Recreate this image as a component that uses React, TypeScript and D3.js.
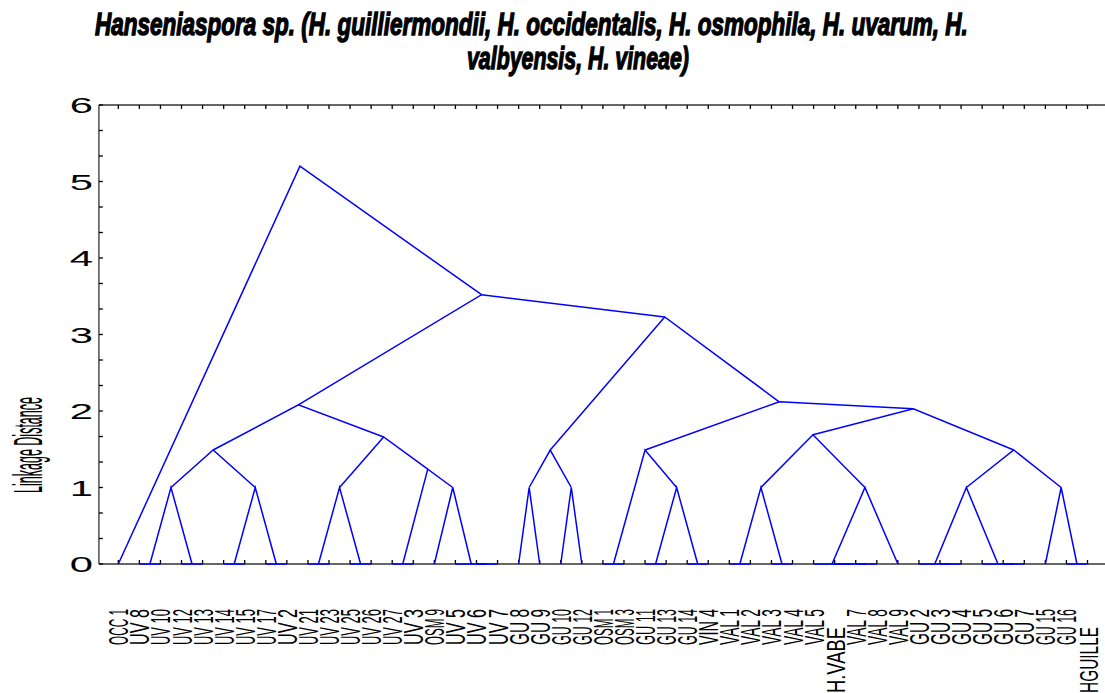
import React, { useLayoutEffect, useRef, useState } from "react";
import * as d3 from "d3";

// chart text
const titleLines = [
  "Hanseniaspora sp. (H. guilliermondii, H. occidentalis, H. osmophila, H. uvarum, H.",
  "valbyensis, H. vineae)",
];
const yLabel = "Linkage Distance";
const yTicks = [0, 1, 2, 3, 4, 5, 6];

// leaf labels, in dendrogram order
const leafLabels = [
  "OCC 1", "UV 8", "UV 10", "UV 12", "UV 13", "UV 14", "UV 15", "UV 17", "UV 2",
  "UV 21", "UV 23", "UV 25", "UV 26", "UV 27", "UV 3", "OSM 9", "UV 5", "UV 6",
  "UV 7", "GU 8", "GU 9", "GU 10", "GU 12", "OSM 1", "OSM 3", "GU 11", "GU 13",
  "GU 14", "VIN 4", "VAL 1", "VAL 2", "VAL 3", "VAL 4", "VAL 5", "H.VABE", "VAL 7",
  "VAL 8", "VAL 9", "GU 2", "GU 3", "GU 4", "GU 5", "GU 6", "GU 7", "GU 15",
  "GU 16", "HGUILLE",
];

// linkage rows [left, right, distance]; ids 1..47 are leaves, 48.. are clusters
const linkage: [number, number, number][] = [
  [2, 3, 0], [4, 5, 0], [6, 7, 0], [8, 9, 0], [10, 11, 0], [12, 13, 0],
  [14, 15, 0], [18, 19, 0], [17, 55, 0], [24, 25, 0], [26, 27, 0], [28, 29, 0],
  [30, 31, 0], [32, 33, 0], [36, 37, 0], [35, 62, 0], [34, 63, 0], [40, 41, 0],
  [39, 65, 0], [43, 44, 0], [42, 67, 0], [46, 47, 0],
  [48, 49, 1.0], [50, 51, 1.0], [52, 53, 1.0], [16, 56, 1.0], [20, 21, 1.0],
  [22, 23, 1.0], [58, 59, 1.0], [60, 61, 1.0], [64, 38, 1.0], [66, 68, 1.0],
  [45, 69, 1.0], [54, 73, 1.24],
  [70, 71, 1.49], [72, 81, 1.66], [74, 75, 1.49], [57, 76, 1.49], [77, 78, 1.69],
  [79, 80, 1.49], [82, 83, 2.08], [86, 87, 2.03], [85, 89, 2.12], [84, 90, 3.23],
  [88, 91, 3.52], [1, 92, 5.2],
];

const W = 1105;
const H = 693;
const FONT = "'Liberation Sans', Arial, sans-serif";

// squeezes a text horizontally to a given width via a scale transform
function Squeezed({ x, y, width, children, ...rest }: any) {
  const ref = useRef<SVGTextElement>(null);
  const [k, setK] = useState(1);
  useLayoutEffect(() => {
    if (ref.current) {
      const w = ref.current.getComputedTextLength();
      if (w > 0) setK(width / w);
    }
  }, [width, children]);
  return (
    <text ref={ref} transform={`translate(${x},${y}) scale(${k},1)`} {...rest}>
      {children}
    </text>
  );
}

export default function App() {
  const n = leafLabels.length;
  const x = d3.scaleLinear().domain([1, n]).range([118.3, 1087.5]);
  const y = d3.scaleLinear().domain([0, 6]).range([564, 105]);
  const left = x(0.08);
  const right = x(n + 0.92);

  // node positions: leaves at their index, clusters at the midpoint of children
  const pos = new Map<number, { p: number; h: number }>();
  d3.range(1, n + 1).forEach((i) => pos.set(i, { p: i, h: 0 }));
  const links = linkage.map(([a, b, h], k) => {
    const A = pos.get(a)!;
    const B = pos.get(b)!;
    const node = { p: (A.p + B.p) / 2, h };
    pos.set(n + 1 + k, node);
    return [A, node, B];
  });
  const line = d3
    .line<{ p: number; h: number }>()
    .x((d) => x(d.p))
    .y((d) => y(d.h));

  const minor = d3.range(0, 6.001, 1 / 3);

  return (
    <svg width={W} height={H} style={{ position: "absolute", left: 0, top: 0, background: "#fff" }}>
      {/* title */}
      <g fontFamily={FONT} fontWeight="bold" fontStyle="italic" fontSize={32} stroke="#000" strokeWidth={1.4}>
        <Squeezed x={95} y={35} width={873}>
          {titleLines[0]}
        </Squeezed>
        <Squeezed x={467} y={69} width={222}>
          {titleLines[1]}
        </Squeezed>
      </g>

      {/* axes */}
      <g stroke="#333" strokeWidth={1.3} fill="none">
        <line x1={left} x2={right} y1={y(6)} y2={y(6)} />
        <line x1={left} x2={right} y1={y(0)} y2={y(0)} />
        <line x1={left} x2={left} y1={y(6)} y2={y(0)} />
        {d3.range(1, n + 1).map((i) => (
          <g key={"xt" + i} stroke="#000">
            <line x1={x(i)} x2={x(i)} y1={y(6)} y2={y(6) + 4} />
            <line x1={x(i)} x2={x(i)} y1={y(0)} y2={y(0) - 4} />
          </g>
        ))}
        {minor.map((t, i) => (
          <line key={"yt" + i} x1={left} x2={left + 4} y1={y(t)} y2={y(t)} stroke="#000" />
        ))}
      </g>

      {/* y tick labels */}
      <g fontFamily={FONT} fontSize={22} fill="#000">
        {yTicks.map((t) => (
          <text key={t} transform={`translate(93,${y(t) + 8}) scale(1.9,1)`} textAnchor="end">
            {t}
          </text>
        ))}
      </g>

      {/* y label */}
      <text
        transform={`translate(42,445) rotate(-90)`}
        textAnchor="middle"
        fontFamily={FONT}
        fontSize={40}
        textLength={96}
        lengthAdjust="spacingAndGlyphs"
      >
        {yLabel}
      </text>

      {/* leaf labels */}
      <g fontFamily={FONT} fill="#000">
        {leafLabels.map((lab, i) => {
          const long = lab.startsWith("H");
          const cy = long ? 660 : 627;
          return (
            <text
              key={"l" + i}
              transform={`translate(${x(i + 1) + 10},${cy}) rotate(-90)`}
              textAnchor="middle"
              fontSize={long ? 26 : 28}
              textLength={long ? 66 : 36}
              lengthAdjust="spacingAndGlyphs"
            >
              {lab}
            </text>
          );
        })}
      </g>

      {/* dendrogram */}
      <g stroke="#0000ff" strokeWidth={1.5} fill="none">
        {links.map((pts, i) => (
          <path key={"k" + i} d={line(pts)!} />
        ))}
      </g>
    </svg>
  );
}
